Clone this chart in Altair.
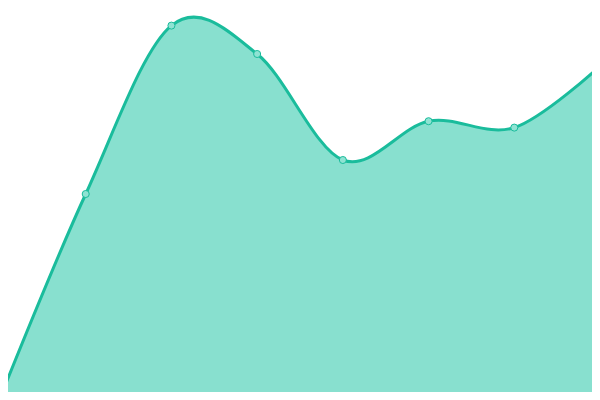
import altair as alt
import pandas as pd

xs = [0, 1, 2, 3, 4, 5, 6, 7]
values = [0.5, 51.5, 93.6, 86.5, 60.0, 69.7, 68.1, 83.5]

df = pd.DataFrame({"x": xs, "y": values})

xenc = alt.X("x:Q", axis=None, scale=alt.Scale(domain=[0, 7], nice=False, zero=False))
yenc = alt.Y("y:Q", axis=None, scale=alt.Scale(domain=[0, 100], nice=False))

base = alt.Chart(df)
area = base.mark_area(interpolate="cardinal", color="#88e0cf", opacity=1).encode(x=xenc, y=yenc)
line = base.mark_line(interpolate="cardinal", color="#1abc9c", strokeWidth=3).encode(x=xenc, y=yenc)
pts = base.mark_point(filled=True, fill="#8fe3d3", stroke="#1abc9c", strokeWidth=1,
                      size=50, opacity=1, shape="circle").encode(x=xenc, y=yenc)

chart = (area + line + pts).properties(
    width=600, height=400,
    padding={"left": -8, "top": -8, "right": -8, "bottom": -8},
    autosize=alt.AutoSizeParams(type="none"),
).configure_view(stroke=None)

chart.save("out.html", embed_options={"renderer": "svg", "actions": False})
